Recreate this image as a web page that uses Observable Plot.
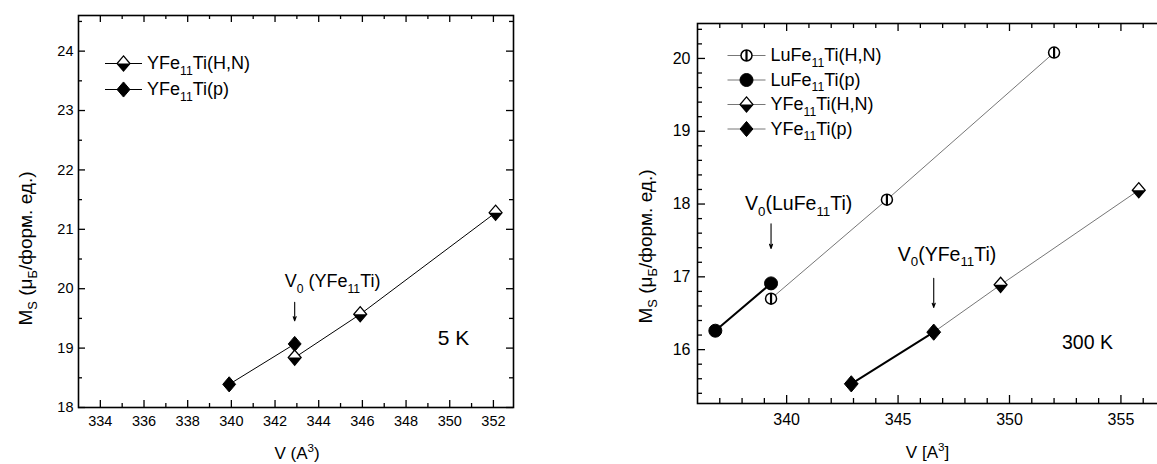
<!DOCTYPE html>
<html><head><meta charset="utf-8">
<script src="https://cdn.jsdelivr.net/npm/d3@7"></script>
<script src="https://cdn.jsdelivr.net/npm/@observablehq/plot@0.6"></script>
<style>
html,body{margin:0;padding:0;background:#fff;overflow:hidden;width:1157px;height:464px}
#left{position:absolute;left:0;top:0;width:530px;height:464px}
#right{position:absolute;left:560px;top:0;width:620px;height:464px}
#left svg,#right svg{max-width:none !important;display:block}
</style></head><body>
<div id="left"></div><div id="right"></div>
<script>
// ---------- data: left panel (5 K) ----------
const y5K_HN_V = [342.9, 345.9, 352.1];
const y5K_HN_M = [18.84, 19.57, 21.28];
const y5K_p_V = [339.9, 342.9];
const y5K_p_M = [18.39, 19.07];
const left_xTicks = [334, 336, 338, 340, 342, 344, 346, 348, 350, 352];
const left_xMinor = [335, 337, 339, 341, 343, 345, 347, 349, 351];
const left_yTicks = [18, 19, 20, 21, 22, 23, 24];
const left_yMinor = [18.5, 19.5, 20.5, 21.5, 22.5, 23.5, 24.5];
const left_v0 = [{x: 342.9, ty: 20.12, y1: 19.77, y2: 19.46, label: "V_{0} (YFe_{11}Ti)"}];
const left_temp = [{x: 350.17, y: 19.16, label: "5 K"}];
const left_legend = ["YFe_{11}Ti(H,N)", "YFe_{11}Ti(p)"];

// ---------- data: right panel (300 K) ----------
const lu300_HN_V = [339.3, 344.5, 352.0];
const lu300_HN_M = [16.70, 18.06, 20.08];
const lu300_p_V = [336.8, 339.3];
const lu300_p_M = [16.26, 16.91];
const y300_HN_V = [349.6, 355.8];
const y300_HN_M = [16.89, 18.19];
const y300_p_V = [342.9, 346.6];
const y300_p_M = [15.53, 16.24];
const right_xTicks = [340, 345, 350, 355];
const right_xMinor = [337, 338, 339, 341, 342, 343, 344, 346, 347, 348, 349, 351, 352, 353, 354, 356];
const right_yTicks = [16, 17, 18, 19, 20];
const right_yMinor = [15.4, 15.6, 15.8, 16.2, 16.4, 16.6, 16.8, 17.2, 17.4, 17.6, 17.8, 18.2, 18.4, 18.6, 18.8, 19.2, 19.4, 19.6, 19.8, 20.2, 20.4];
const right_v0Lu = [{x: 339.3, ty: 18.0, y1: 17.73, y2: 17.39, label: "V_{0}(LuFe_{11}Ti)"}];
const right_v0Y = [{x: 346.6, ty: 17.31, y1: 16.98, y2: 16.58, label: "V_{0}(YFe_{11}Ti)"}];
const right_temp = [{x: 353.5, y: 16.1, label: "300 K"}];
const right_legend = ["LuFe_{11}Ti(H,N)", "LuFe_{11}Ti(p)", "YFe_{11}Ti(H,N)", "YFe_{11}Ti(p)"];

const zip = (V, M) => V.map((v, i) => ({v, m: M[i]}));
const SANS = "'Liberation Sans',Arial,sans-serif";

// ---------- symbols ----------
const rad = s => Math.sqrt(s / Math.PI);
const sym = {
  diamond: {draw(c, s) {const r = rad(s), w = r * 0.92, h = r * 1.08; c.moveTo(0, -h); c.lineTo(w, 0); c.lineTo(0, h); c.lineTo(-w, 0); c.closePath();}},
  diamondLow: {draw(c, s) {const r = rad(s), w = r * 0.92, h = r * 1.08; c.moveTo(-w, 0); c.lineTo(w, 0); c.lineTo(0, h); c.closePath();}},
  circle: {draw(c, s) {const r = rad(s); c.moveTo(r, 0); c.arc(0, 0, r, 0, 2 * Math.PI); c.closePath();}},
  vbar: {draw(c, s) {const r = rad(s); c.moveTo(0, -r); c.lineTo(0, r);}},
  seg: {draw(c, s) {const r = rad(s); c.moveTo(-r, 0); c.lineTo(r, 0);}}
};

function symbolMarks(data, kind, opts) {
  if (kind === "diamondHalf") return [
    Plot.dot(data, {...opts, symbol: sym.diamond, fill: "white", stroke: "black", strokeWidth: 1.3}),
    Plot.dot(data, {...opts, symbol: sym.diamondLow, fill: "black"})
  ];
  if (kind === "diamondFull") return [Plot.dot(data, {...opts, symbol: sym.diamond, fill: "black", stroke: "black", strokeWidth: 1})];
  if (kind === "circleFull") return [Plot.dot(data, {...opts, symbol: sym.circle, fill: "black", stroke: "black", strokeWidth: 1})];
  if (kind === "circleHalf") return [
    Plot.dot(data, {...opts, symbol: sym.circle, fill: "white", stroke: "black", strokeWidth: 1.5}),
    Plot.dot(data, {...opts, symbol: sym.vbar, fill: "none", stroke: "black", strokeWidth: 2.2})
  ];
  return [];
}

function legendMarks(labels, kinds, {dx, dy, step, lineLen, rs, fontSize, lineColor}) {
  const out = [];
  labels.forEach((lab, i) => {
    const y = dy + i * step;
    out.push(Plot.dot([0], {frameAnchor: "top-left", dx, dy: y, symbol: sym.seg, r: lineLen / 2, stroke: lineColor, strokeWidth: 1, fill: "none"}));
    out.push(...symbolMarks([0], kinds[i], {frameAnchor: "top-left", dx, dy: y, r: rs[i]}));
    out.push(Plot.text([lab], {frameAnchor: "top-left", dx: dx + lineLen / 2 + 5, dy: y, text: d => d, textAnchor: "start", lineAnchor: "middle", fontSize, fill: "black"}));
  });
  return out;
}

function frameAxes({xT, xM, yT, yM, fs, xPad, yPad, major, minor, W, H}) {
  const tk = {stroke: "black", strokeWidth: 1.3};
  return [
    Plot.axisX(xT, {anchor: "bottom", tickSize: 0, tickPadding: xPad, fontSize: fs, label: null, fill: "black", tickFormat: d => String(d)}),
    Plot.axisY(yT, {anchor: "left", tickSize: 0, tickPadding: yPad, fontSize: fs, label: null, fill: "black", tickFormat: d => String(d)}),
    Plot.ruleX(xT, {x: d => d, insetTop: H - major, ...tk}),
    Plot.ruleX(xM, {x: d => d, insetTop: H - minor, ...tk}),
    Plot.ruleX(xT, {x: d => d, insetBottom: H - major, ...tk}),
    Plot.ruleX(xM, {x: d => d, insetBottom: H - minor, ...tk}),
    Plot.ruleY(yT, {y: d => d, insetRight: W - major, ...tk}),
    Plot.ruleY(yM, {y: d => d, insetRight: W - minor, ...tk}),
    Plot.ruleY(yT, {y: d => d, insetLeft: W - major, ...tk}),
    Plot.ruleY(yM, {y: d => d, insetLeft: W - minor, ...tk})
  ];
}

// ---------- rich text (sub/superscripts) ----------
function richify(svg) {
  svg.querySelectorAll("text").forEach(t => {
    if (t.querySelector("tspan")) return;
    const s = t.textContent;
    if (!/[_^]\{/.test(s)) return;
    const fs = parseFloat(getComputedStyle(t).fontSize) || 16;
    t.textContent = "";
    const re = /([_^])\{([^}]*)\}|([^_^]+)/g;
    let m, shift = 0;
    const NS = "http://www.w3.org/2000/svg";
    while ((m = re.exec(s))) {
      const ts = document.createElementNS(NS, "tspan");
      if (m[1]) {
        const target = m[1] === "_" ? 0.3 * fs : -0.42 * fs;
        ts.setAttribute("dy", (target - shift).toFixed(2));
        shift = target;
        ts.setAttribute("font-size", (0.68 * fs).toFixed(1));
        ts.textContent = m[2];
      } else {
        if (shift) ts.setAttribute("dy", (-shift).toFixed(2));
        shift = 0;
        ts.textContent = m[3];
      }
      t.appendChild(ts);
    }
  });
}

// ---------- left chart ----------
const L = {w: 530, h: 464, ml: 78, mr: 17, mt: 15, mb: 57};
const leftChart = Plot.plot({
  width: L.w, height: L.h,
  marginLeft: L.ml, marginRight: L.mr, marginTop: L.mt, marginBottom: L.mb,
  x: {domain: [333, 352.92]},
  y: {domain: [18, 24.6]},
  style: {background: "white", color: "black", fontFamily: SANS},
  marks: [
    ...frameAxes({xT: left_xTicks, xM: left_xMinor, yT: left_yTicks, yM: left_yMinor, fs: 14.5, xPad: 8, yPad: 5, major: 7, minor: 4,
      W: L.w - L.ml - L.mr, H: L.h - L.mt - L.mb}),
    Plot.frame({stroke: "black", strokeWidth: 1.6}),
    Plot.line(zip(y5K_p_V, y5K_p_M), {x: "v", y: "m", stroke: "black", strokeWidth: 1}),
    Plot.line(zip(y5K_HN_V, y5K_HN_M), {x: "v", y: "m", stroke: "black", strokeWidth: 1}),
    ...symbolMarks(zip(y5K_p_V, y5K_p_M), "diamondFull", {x: "v", y: "m", r: 7}),
    ...symbolMarks(zip(y5K_HN_V, y5K_HN_M), "diamondHalf", {x: "v", y: "m", r: 7}),
    Plot.arrow(left_v0, {x: "x", y1: "y1", y2: "y2", stroke: "black", strokeWidth: 1.1, headLength: 6, headAngle: 40}),
    Plot.text(left_v0, {x: "x", y: "ty", text: "label", dx: -10, textAnchor: "start", fontSize: 18, fill: "black"}),
    Plot.text(left_temp, {x: "x", y: "y", text: "label", fontSize: 21, fill: "black"}),
    ...legendMarks(left_legend, ["diamondHalf", "diamondFull"], {dx: 45, dy: 48, step: 26, lineLen: 37, rs: [7, 7], fontSize: 18, lineColor: "black"}),
    Plot.text(["M_{S} (μ_{Б}/форм. ед.)"], {frameAnchor: "left", dx: -53, dy: 37, rotate: -90, text: d => d, fontSize: 19, fill: "black", textAnchor: "middle", lineAnchor: "middle"}),
    Plot.text(["V (A^{3})"], {frameAnchor: "bottom", dx: 1, dy: 46, text: d => d, fontSize: 17, fill: "black", textAnchor: "middle", lineAnchor: "middle"})
  ]
});
document.getElementById("left").appendChild(leftChart);
richify(leftChart);

// ---------- right chart ----------
const R = {w: 620, h: 464, ml: 137, mr: 15, mt: 23, mb: 61};
const luHN = zip(lu300_HN_V, lu300_HN_M);
const luP = zip(lu300_p_V, lu300_p_M);
const yHN = zip(y300_HN_V, y300_HN_M);
const yP = zip(y300_p_V, y300_p_M);
const rightChart = Plot.plot({
  width: R.w, height: R.h,
  marginLeft: R.ml, marginRight: R.mr, marginTop: R.mt, marginBottom: R.mb,
  x: {domain: [336, 357]},
  y: {domain: [15.26, 20.48]},
  style: {background: "white", color: "black", fontFamily: SANS},
  marks: [
    ...frameAxes({xT: right_xTicks, xM: right_xMinor, yT: right_yTicks, yM: right_yMinor, fs: 16, xPad: 10, yPad: 7, major: 8, minor: 5,
      W: R.w - R.ml - R.mr, H: R.h - R.mt - R.mb}),
    Plot.frame({stroke: "black", strokeWidth: 1.6}),
    Plot.line(luHN, {x: "v", y: "m", stroke: "#666", strokeWidth: 0.9}),
    Plot.line([yP[yP.length - 1], ...yHN], {x: "v", y: "m", stroke: "#666", strokeWidth: 0.9}),
    Plot.line(luP, {x: "v", y: "m", stroke: "black", strokeWidth: 2}),
    Plot.line(yP, {x: "v", y: "m", stroke: "black", strokeWidth: 2}),
    ...symbolMarks(luHN, "circleHalf", {x: "v", y: "m", r: 5.5}),
    ...symbolMarks(luP, "circleFull", {x: "v", y: "m", r: 6.5}),
    ...symbolMarks(yHN, "diamondHalf", {x: "v", y: "m", r: 7}),
    ...symbolMarks(yP, "diamondFull", {x: "v", y: "m", r: 7.5}),
    Plot.arrow(right_v0Lu, {x: "x", y1: "y1", y2: "y2", stroke: "black", strokeWidth: 1.1, headLength: 6, headAngle: 40}),
    Plot.arrow(right_v0Y, {x: "x", y1: "y1", y2: "y2", stroke: "black", strokeWidth: 1.1, headLength: 6, headAngle: 40}),
    Plot.text(right_v0Lu, {x: "x", y: "ty", text: "label", dx: -26, textAnchor: "start", fontSize: 19.5, fill: "black"}),
    Plot.text(right_v0Y, {x: "x", y: "ty", text: "label", dx: -36, textAnchor: "start", fontSize: 19.5, fill: "black"}),
    Plot.text(right_temp, {x: "x", y: "y", text: "label", fontSize: 19.5, fill: "black"}),
    ...legendMarks(right_legend, ["circleHalf", "circleFull", "diamondHalf", "diamondFull"], {dx: 49, dy: 32, step: 24.5, lineLen: 38, rs: [5.5, 6.5, 7, 7], fontSize: 18, lineColor: "#777"}),
    Plot.text(["M_{S} (μ_{Б}/форм. ед.)"], {frameAnchor: "left", dx: -52, dy: 33, rotate: -90, text: d => d, fontSize: 19, fill: "black", textAnchor: "middle", lineAnchor: "middle"}),
    Plot.text(["V [A^{3}]"], {frameAnchor: "bottom", dx: -4, dy: 49, text: d => d, fontSize: 17, fill: "black", textAnchor: "middle", lineAnchor: "middle"})
  ]
});
document.getElementById("right").appendChild(rightChart);
richify(rightChart);
</script>
</body></html>
